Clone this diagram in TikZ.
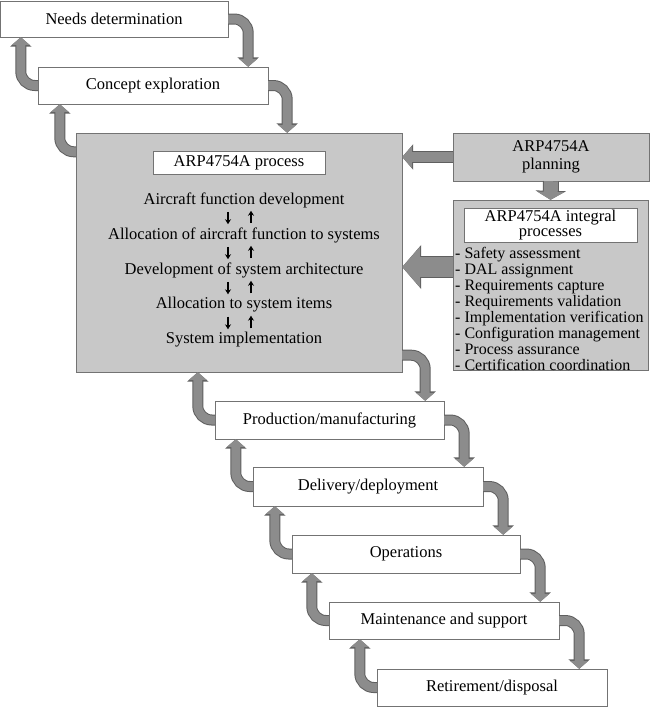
\documentclass[tikz,border=0pt]{standalone}
\usepackage{fontspec}
\setmainfont{Liberation Serif}
\usetikzlibrary{arrows.meta}
\definecolor{panelgray}{RGB}{200,200,200}
\definecolor{boxline}{RGB}{115,115,115}
\definecolor{flowfill}{RGB}{140,140,140}
\definecolor{flowline}{RGB}{95,95,95}

\begin{document}
\begin{tikzpicture}[x=1pt, y=-1pt,
    stage/.style={draw=boxline, fill=white, minimum width=230pt, minimum height=37pt,
                  inner sep=0pt, font=\fontsize{16.5}{18}\selectfont},
    panel/.style={draw=boxline, fill=panelgray, inner sep=0pt},
    title/.style={draw=boxline, fill=white, inner sep=0pt, align=center,
                  font=\fontsize{16.5}{15}\selectfont},
    steptext/.style={inner sep=0pt, font=\fontsize{16.5}{18}\selectfont},
    stepdown/.style={-{Stealth[length=5pt,width=6pt]}, line width=1.3pt,
                     shorten <=4pt, shorten >=3pt},
    flow/.style n args={3}{draw=flowfill, line width=#1, -{Triangle[#2]},
                     preaction={draw=flowline, line width=#1+2pt, -{Triangle[#3]}}},
    loopflow/.style={flow={9pt}{length=8pt,width=18pt}{length=9.5pt,width=21pt},
                     rounded corners=14pt},
  ]
  \useasboundingbox (0,0) rectangle (650,707);

  % life cycle stages
  \node[stage, minimum width=228pt, minimum height=36pt] (needs) at (114,19) {Needs determination};
  \node[stage] (concept) at (153,85.5) {Concept exploration};
  \node[stage, minimum width=229pt, minimum height=38pt] (production) at (329.5,420) {Production/manufacturing};
  \node[stage, minimum height=39pt] (delivery) at (368,486.5) {Delivery/deployment};
  \node[stage, minimum width=228pt, minimum height=38pt] (operations) at (406,554) {Operations};
  \node[stage] (maintenance) at (444,620.5) {Maintenance and support};
  \node[stage] (retirement) at (492,687.5) {Retirement/disposal};

  % ARP4754A process
  \node[panel, minimum width=326pt, minimum height=239pt] (main) at (239,252.5) {};
  \node[title, minimum width=172pt, minimum height=23pt] (proctitle) at (239,162.5) {ARP4754A process};
  \node[steptext] (fundev)    at (244,200) {Aircraft function development};
  \node[steptext] (funalloc)  at (244,235) {Allocation of aircraft function to systems};
  \node[steptext] (sysarch)   at (244,270) {Development of system architecture};
  \node[steptext] (itemalloc) at (244,305) {Allocation to system items};
  \node[steptext] (sysimpl)   at (244,340) {System implementation};
  \foreach \a/\b in {fundev/funalloc, funalloc/sysarch, sysarch/itemalloc, itemalloc/sysimpl} {
    \draw[stepdown] ([xshift=-16pt]\a.south) -- ([xshift=-16pt]\b.north);
    \draw[stepdown] ([xshift=7pt]\b.north) -- ([xshift=7pt]\a.south);
  }

  % planning and integral processes
  \node[panel, minimum width=196pt, minimum height=48pt, align=center,
        font=\fontsize{16.5}{18}\selectfont] (planning) at (551,157) {ARP4754A\\planning};
  \node[panel, minimum width=195pt, minimum height=170pt] (integral) at (550.5,285) {};
  \node[title, minimum width=173pt, minimum height=34pt] (integtitle) at (550.5,225)
    {ARP4754A integral\\processes};
  \node[anchor=north west, align=left, inner sep=0pt,
        font=\fontsize{16}{16}\selectfont] (integlist) at (455,247)
    {- Safety assessment\\- DAL assignment\\- Requirements capture\\- Requirements validation\\
     - Implementation verification\\- Configuration management\\- Process assurance\\
     - Certification coordination};

  \draw[flow={10pt}{length=10pt,width=22pt}{length=11pt,width=25pt}]
    (planning.west) -- (main.east |- planning.west);
  \draw[flow={14pt}{length=8pt,width=27pt}{length=9pt,width=30pt}]
    (planning.south) -- (integral.north);
  \draw[flow={20pt}{length=18pt,width=40pt}{length=19pt,width=43pt}]
    ([yshift=18pt]integral.west) -- ([yshift=18pt]integral.west -| main.east);

  % loops between stages
  \draw[loopflow] (concept.east) -| ([xshift=19pt]concept.east |- main.north);
  \draw[loopflow] ([yshift=-19pt]main.north west) -| ([xshift=-16pt]main.west |- concept.south);
  \draw[loopflow] ([yshift=17pt]main.south east) -| ([xshift=23pt]main.east |- production.north);
  \draw[loopflow] (production.west) -| ([xshift=-17pt]production.west |- main.south);
  \foreach \u/\l in {needs/concept, production/delivery, delivery/operations,
                     operations/maintenance, maintenance/retirement} {
    \draw[loopflow] (\u.east) -| ([xshift=20pt]\u.east |- \l.north);
    \draw[loopflow] (\l.west) -| ([xshift=-17pt]\l.west |- \u.south);
  }
\end{tikzpicture}
\end{document}
